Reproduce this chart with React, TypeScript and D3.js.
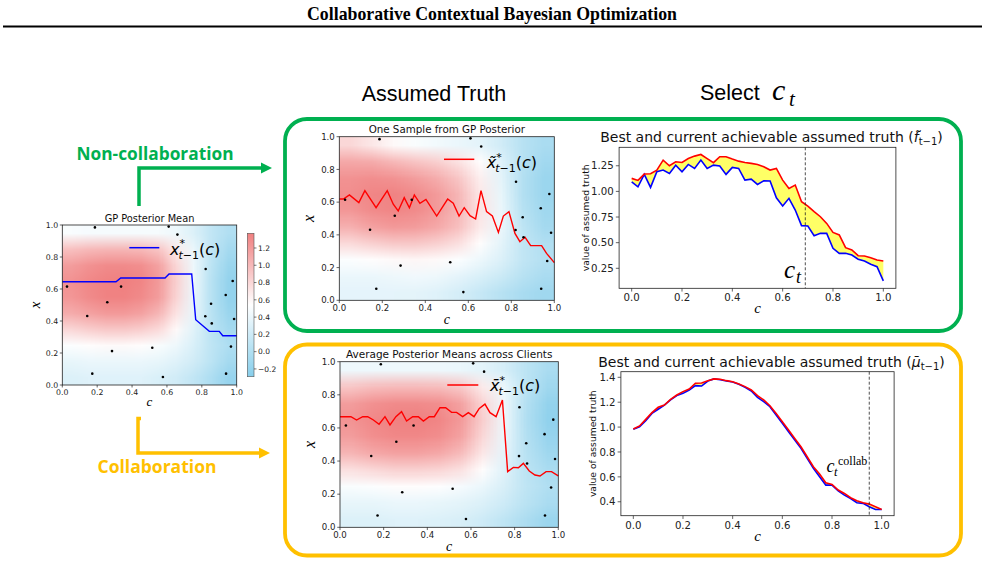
import React, { useMemo } from 'react';
import * as d3 from 'd3';

const W = 985;
const H = 567;

// observed (c, x) points shared by the three posterior panels
const obsC = [0.187, 0.61, 0.66, 0.027, 0.337, 0.258, 0.143, 0.285, 0.516, 0.172, 0.577, 0.822, 0.977, 0.937, 0.853, 0.82, 0.857, 0.985, 0.967, 0.939];
const obsX = [0.985, 0.99, 0.94, 0.615, 0.615, 0.517, 0.431, 0.212, 0.233, 0.071, 0.05, 0.725, 0.65, 0.5625, 0.508, 0.43, 0.385, 0.4125, 0.24, 0.071];

// 10x10 cell values, rows from x=0.95 (top) down to x=0.05, columns c=0.05..0.95
const meanGrid = [
  [0.50, 0.48, 0.47, 0.47, 0.47, 0.47, 0.42, 0.30, 0.12, 0.00],
  [0.95, 1.00, 1.02, 1.02, 1.00, 0.92, 0.68, 0.40, 0.12, -0.08],
  [1.18, 1.25, 1.30, 1.30, 1.27, 1.15, 0.80, 0.42, 0.08, -0.15],
  [1.25, 1.32, 1.36, 1.37, 1.33, 1.20, 0.85, 0.42, 0.05, -0.20],
  [1.22, 1.30, 1.35, 1.35, 1.30, 1.18, 0.82, 0.40, 0.05, -0.20],
  [1.08, 1.15, 1.20, 1.20, 1.15, 1.02, 0.72, 0.38, 0.06, -0.15],
  [0.80, 0.86, 0.90, 0.90, 0.86, 0.78, 0.58, 0.33, 0.08, -0.08],
  [0.52, 0.55, 0.57, 0.57, 0.55, 0.50, 0.42, 0.28, 0.10, -0.02],
  [0.38, 0.40, 0.40, 0.40, 0.40, 0.38, 0.32, 0.22, 0.08, -0.08],
  [0.30, 0.32, 0.32, 0.32, 0.32, 0.28, 0.22, 0.12, -0.02, -0.18],
];
const sampleGrid = [
  [0.80, 0.70, 0.58, 0.50, 0.45, 0.40, 0.35, 0.22, 0.05, -0.05],
  [1.10, 1.08, 1.00, 0.92, 0.85, 0.72, 0.55, 0.32, 0.05, -0.10],
  [1.25, 1.28, 1.25, 1.18, 1.08, 0.92, 0.65, 0.35, 0.02, -0.15],
  [1.28, 1.33, 1.35, 1.30, 1.20, 1.02, 0.70, 0.38, 0.02, -0.15],
  [1.22, 1.30, 1.33, 1.30, 1.20, 1.02, 0.72, 0.40, 0.05, -0.12],
  [1.05, 1.15, 1.20, 1.18, 1.10, 0.95, 0.68, 0.40, 0.10, -0.08],
  [0.78, 0.85, 0.90, 0.90, 0.85, 0.75, 0.55, 0.35, 0.12, 0.00],
  [0.52, 0.55, 0.58, 0.60, 0.58, 0.52, 0.42, 0.30, 0.12, 0.02],
  [0.40, 0.40, 0.42, 0.44, 0.42, 0.36, 0.28, 0.18, 0.05, -0.05],
  [0.36, 0.36, 0.36, 0.35, 0.32, 0.25, 0.15, 0.05, -0.05, -0.12],
];
const avgGrid = [
  [0.42, 0.42, 0.42, 0.42, 0.42, 0.40, 0.35, 0.25, 0.08, -0.05],
  [0.92, 0.98, 1.00, 1.00, 0.98, 0.90, 0.68, 0.40, 0.08, -0.12],
  [1.18, 1.26, 1.30, 1.30, 1.27, 1.15, 0.82, 0.42, 0.02, -0.20],
  [1.24, 1.32, 1.36, 1.37, 1.33, 1.20, 0.86, 0.42, 0.00, -0.22],
  [1.18, 1.27, 1.32, 1.32, 1.28, 1.15, 0.80, 0.40, 0.02, -0.18],
  [1.02, 1.10, 1.15, 1.15, 1.10, 0.98, 0.70, 0.36, 0.05, -0.12],
  [0.75, 0.80, 0.85, 0.85, 0.82, 0.74, 0.55, 0.32, 0.08, -0.05],
  [0.50, 0.52, 0.55, 0.55, 0.53, 0.48, 0.40, 0.27, 0.10, 0.00],
  [0.38, 0.38, 0.40, 0.40, 0.38, 0.35, 0.30, 0.20, 0.06, -0.05],
  [0.30, 0.30, 0.32, 0.32, 0.30, 0.27, 0.20, 0.10, -0.03, -0.15],
];

// argmax curves x*(c)
const meanArgC = [0, 0.308, 0.335, 0.589, 0.612, 0.742, 0.765, 0.843, 0.9, 0.92, 1.0];
const meanArgX = [0.645, 0.645, 0.669, 0.669, 0.694, 0.694, 0.408, 0.335, 0.335, 0.308, 0.308];

const sampleArgC = [0, 0.019, 0.047, 0.091, 0.119, 0.171, 0.223, 0.251, 0.274, 0.302, 0.326, 0.349, 0.375, 0.403, 0.453, 0.504, 0.53, 0.557, 0.581, 0.608, 0.634, 0.659, 0.685, 0.712, 0.74, 0.763, 0.789, 0.817, 0.84, 0.864, 0.89, 0.941, 0.964, 1.0];
const sampleArgX = [0.619, 0.619, 0.644, 0.597, 0.67, 0.566, 0.67, 0.587, 0.546, 0.627, 0.566, 0.644, 0.593, 0.617, 0.515, 0.619, 0.593, 0.515, 0.566, 0.517, 0.497, 0.67, 0.542, 0.515, 0.415, 0.515, 0.542, 0.409, 0.358, 0.385, 0.334, 0.334, 0.287, 0.23];

const avgArgC = [0, 0.05, 0.076, 0.104, 0.127, 0.153, 0.179, 0.206, 0.229, 0.256, 0.282, 0.305, 0.333, 0.359, 0.382, 0.409, 0.432, 0.458, 0.484, 0.511, 0.534, 0.562, 0.588, 0.614, 0.638, 0.664, 0.687, 0.715, 0.744, 0.768, 0.794, 0.817, 0.84, 0.867, 0.893, 0.916, 0.944, 0.969, 1.0];
const avgArgX = [0.668, 0.668, 0.648, 0.668, 0.668, 0.648, 0.622, 0.668, 0.618, 0.668, 0.698, 0.642, 0.668, 0.668, 0.642, 0.668, 0.668, 0.722, 0.722, 0.694, 0.694, 0.668, 0.692, 0.668, 0.718, 0.744, 0.692, 0.668, 0.769, 0.336, 0.362, 0.36, 0.386, 0.34, 0.316, 0.31, 0.336, 0.336, 0.31];

// achievable assumed truth along c
const cGrid = [0, 0.025, 0.05, 0.075, 0.1, 0.125, 0.15, 0.175, 0.2, 0.225, 0.25, 0.275, 0.3, 0.325, 0.35, 0.375, 0.4, 0.425, 0.45, 0.475, 0.5, 0.525, 0.55, 0.575, 0.6, 0.625, 0.65, 0.675, 0.7, 0.725, 0.75, 0.775, 0.8, 0.825, 0.85, 0.875, 0.9, 0.925, 0.95, 0.975, 1.0];
const bestSample = [1.127, 1.107, 1.169, 1.172, 1.208, 1.305, 1.25, 1.289, 1.282, 1.321, 1.344, 1.36, 1.32, 1.28, 1.338, 1.338, 1.315, 1.295, 1.282, 1.273, 1.263, 1.24, 1.208, 1.224, 1.11, 1.029, 1.062, 0.899, 0.857, 0.802, 0.753, 0.688, 0.6, 0.575, 0.451, 0.429, 0.373, 0.37, 0.354, 0.331, 0.321];
const curSample = [1.094, 1.045, 1.166, 1.039, 1.192, 1.208, 1.175, 1.256, 1.192, 1.263, 1.224, 1.305, 1.224, 1.256, 1.247, 1.166, 1.234, 1.224, 1.11, 1.12, 1.068, 1.104, 1.101, 0.938, 0.857, 0.932, 0.818, 0.666, 0.662, 0.568, 0.591, 0.591, 0.445, 0.396, 0.396, 0.38, 0.338, 0.321, 0.289, 0.266, 0.127];
const bestAvg = [0.984, 1.009, 1.062, 1.116, 1.159, 1.177, 1.223, 1.258, 1.285, 1.306, 1.352, 1.354, 1.373, 1.387, 1.384, 1.373, 1.365, 1.346, 1.325, 1.298, 1.253, 1.218, 1.172, 1.11, 1.043, 0.976, 0.909, 0.842, 0.762, 0.681, 0.623, 0.553, 0.539, 0.494, 0.467, 0.432, 0.408, 0.392, 0.381, 0.36, 0.338];
const curAvg = [0.982, 1.003, 1.051, 1.11, 1.143, 1.177, 1.218, 1.253, 1.271, 1.298, 1.333, 1.33, 1.37, 1.387, 1.381, 1.37, 1.362, 1.344, 1.319, 1.29, 1.239, 1.204, 1.164, 1.097, 1.03, 0.963, 0.896, 0.829, 0.749, 0.668, 0.601, 0.534, 0.534, 0.488, 0.453, 0.426, 0.392, 0.387, 0.36, 0.338, 0.338];
const selectC = 0.69;
const selectCCollab = 0.95;

const unitTicks = [0, 0.2, 0.4, 0.6, 0.8, 1.0];
const cbTicks = [-0.2, 0, 0.2, 0.4, 0.6, 0.8, 1.0, 1.2];
const sampleTruthTicks = [0.25, 0.5, 0.75, 1.0, 1.25];
const avgTruthTicks = [0.4, 0.6, 0.8, 1.0, 1.2, 1.4];

const HEAT_LO = -0.29;
const HEAT_MID = 0.54;
const HEAT_HI = 1.37;
const heatColor = d3.scaleLinear<string>()
  .domain([HEAT_LO, HEAT_MID, HEAT_HI])
  .range(['#87ceeb', '#ffffff', '#f08080'])
  .clamp(true);

const GREEN = '#00b050';
const GOLD = '#ffc000';
const SANS = 'DejaVu Sans';
const SERIF = 'Liberation Serif';
const fmt1 = d3.format('.1f');
const fmt2 = d3.format('.2f');
const fmtCb = (v: number) => fmt1(v).replace('-', '\u2212');

type Box = { x0: number; x1: number; y0: number; y1: number };

function gridImage(grid: number[][]): string {
  const canvas = document.createElement('canvas');
  canvas.width = grid[0].length;
  canvas.height = grid.length;
  const ctx = canvas.getContext('2d');
  if (!ctx) return '';
  grid.forEach((row, r) => row.forEach((v, c) => {
    ctx.fillStyle = heatColor(v);
    ctx.fillRect(c, r, 1, 1);
  }));
  return canvas.toDataURL();
}

function Frame({ box, x, y, xTicks, yTicks, xFmt, yFmt, fs }: any) {
  const tl = fs * 0.32;
  const pad = fs * 0.2;
  return (
    <g fontFamily={SANS} fontSize={fs} fill="#222">
      {xTicks.map((t: number) => (
        <g key={'x' + t}>
          <line x1={x(t)} x2={x(t)} y1={box.y1} y2={box.y1 + tl} stroke="#222" strokeWidth={0.7} />
          <text x={x(t)} y={box.y1 + tl + pad + fs * 0.76} textAnchor="middle">{xFmt(t)}</text>
        </g>
      ))}
      {yTicks.map((t: number) => (
        <g key={'y' + t}>
          <line x1={box.x0 - tl} x2={box.x0} y1={y(t)} y2={y(t)} stroke="#222" strokeWidth={0.7} />
          <text x={box.x0 - tl - pad} y={y(t)} dy="0.36em" textAnchor="end">{yFmt(t)}</text>
        </g>
      ))}
      <rect x={box.x0} y={box.y0} width={box.x1 - box.x0} height={box.y1 - box.y0} fill="none" stroke="#222" strokeWidth={0.8} />
    </g>
  );
}

// x*_{t-1}(c) with an optional combining accent on x
function ArgLabel({ x, y, mark }: { x: number; y: number; mark: string }) {
  return (
    <text x={x} y={y} fontFamily={SANS} fontSize={16} fill="#000">
      <tspan fontStyle="italic">{'x' + mark}</tspan>
      <tspan fontSize={11} dy={-7.5}>*</tspan>
      <tspan fontSize={11} dx={-6.5} dy={11.5} fontStyle="italic">t</tspan>
      <tspan fontSize={11}>{'\u22121'}</tspan>
      <tspan dy={-4}>(</tspan>
      <tspan fontStyle="italic">c</tspan>
      <tspan>)</tspan>
    </text>
  );
}

function Heatmap({ box, grid, title, titleFs, fs, labelFs, argC, argX, color, legend }: any) {
  const x = d3.scaleLinear().domain([0, 1]).range([box.x0, box.x1]);
  const y = d3.scaleLinear().domain([0, 1]).range([box.y1, box.y0]);
  const href = useMemo(() => gridImage(grid), [grid]);
  const line = d3.line<number>().x((_, i) => x(argC[i])).y((d) => y(d));
  const cx = (box.x0 + box.x1) / 2;
  const cy = (box.y0 + box.y1) / 2;
  return (
    <g>
      <image href={href} x={box.x0} y={box.y0} width={box.x1 - box.x0} height={box.y1 - box.y0} preserveAspectRatio="none" />
      <path d={line(argX) || ''} fill="none" stroke={color} strokeWidth={1.4} />
      {obsC.map((c, i) => (
        <circle key={i} cx={x(c)} cy={y(obsX[i])} r={1.3} fill="#000" />
      ))}
      <Frame box={box} x={x} y={y} xTicks={unitTicks} yTicks={unitTicks} xFmt={fmt1} yFmt={fmt1} fs={fs} />
      <text x={cx} y={box.y0 - 3.5} textAnchor="middle" fontFamily={SANS} fontSize={titleFs} fill="#111">{title}</text>
      <text x={cx} y={box.y1 + fs * 2.7} textAnchor="middle" fontFamily={SERIF} fontStyle="italic" fontSize={labelFs}>c</text>
      <text transform={`translate(${box.x0 - fs * 2.9},${cy}) rotate(-90)`} textAnchor="middle" fontFamily={SERIF} fontStyle="italic" fontSize={labelFs + 2}>x</text>
      <line x1={legend.lx0} x2={legend.lx1} y1={legend.ly} y2={legend.ly} stroke={color} strokeWidth={1.5} />
      <ArgLabel x={legend.tx} y={legend.ty} mark={legend.mark} />
    </g>
  );
}

function Colorbar({ x0, x1, y0, y1, fs }: { x0: number; x1: number; y0: number; y1: number; fs: number }) {
  const s = d3.scaleLinear().domain([HEAT_LO, HEAT_HI]).range([y1, y0]);
  const stops = d3.range(0, 1.0001, 0.1);
  return (
    <g>
      <defs>
        <linearGradient id="cbGrad" x1="0" y1="1" x2="0" y2="0">
          {stops.map((t) => (
            <stop key={t} offset={t} stopColor={heatColor(HEAT_LO + t * (HEAT_HI - HEAT_LO))} />
          ))}
        </linearGradient>
      </defs>
      <rect x={x0} y={y0} width={x1 - x0} height={y1 - y0} fill="url(#cbGrad)" stroke="#555" strokeWidth={0.6} />
      <g fontFamily={SANS} fontSize={fs} fill="#222">
        {cbTicks.map((t) => (
          <g key={t}>
            <line x1={x1} x2={x1 + 2.5} y1={s(t)} y2={s(t)} stroke="#222" strokeWidth={0.6} />
            <text x={x1 + 4} y={s(t)} dy="0.36em">{fmtCb(t)}</text>
          </g>
        ))}
      </g>
    </g>
  );
}

function TruthChart({ box, yDomain, yTicks, yFmt, best, cur, vline, titleSym, ylab }: any) {
  const x = d3.scaleLinear().domain([-0.05, 1.05]).range([box.x0, box.x1]);
  const y = d3.scaleLinear().domain(yDomain).range([box.y1, box.y0]);
  const area = d3.area<number>().x((_, i) => x(cGrid[i])).y0((_, i) => y(cur[i])).y1((d) => y(d));
  const line = d3.line<number>().x((_, i) => x(cGrid[i])).y((d) => y(d));
  const cx = (box.x0 + box.x1) / 2;
  return (
    <g>
      <path d={area(best) || ''} fill="#ffff66" stroke="none" />
      <path d={line(cur) || ''} fill="none" stroke="#0000ff" strokeWidth={1.6} />
      <path d={line(best) || ''} fill="none" stroke="#ff0000" strokeWidth={1.6} />
      <line x1={x(vline)} x2={x(vline)} y1={box.y0} y2={box.y1} stroke="#222" strokeWidth={0.8} strokeDasharray="3,2" />
      <Frame box={box} x={x} y={y} xTicks={unitTicks} yTicks={yTicks} xFmt={fmt1} yFmt={yFmt} fs={10.2} />
      <text x={cx + 14} y={box.y0 - 5} textAnchor="middle" fontFamily={SANS} fontSize={14} fill="#111">
        Best and current achievable assumed truth (
        <tspan fontStyle="italic">{titleSym}</tspan>
        <tspan fontSize={10} dy={3}>{'t\u22121'}</tspan>
        <tspan dy={-3}>)</tspan>
      </text>
      <text x={cx} y={box.y1 + 25} textAnchor="middle" fontFamily={SERIF} fontStyle="italic" fontSize={15}>c</text>
      <text transform={`translate(${ylab},${(box.y0 + box.y1) / 2}) rotate(-90)`} textAnchor="middle" fontFamily={SANS} fontSize={9.2} fill="#111">value of assumed truth</text>
    </g>
  );
}

export default function App() {
  const leftBox: Box = { x0: 62.3, x1: 236.7, y0: 225, y1: 385 };
  const sampleBox: Box = { x0: 339.3, x1: 554.3, y0: 136.7, y1: 300.3 };
  const avgBox: Box = { x0: 340, x1: 558.3, y0: 361.7, y1: 527.3 };
  const topRight: Box = { x0: 619.1, x1: 895.9, y0: 147.3, y1: 288.3 };
  const botRight: Box = { x0: 620.9, x1: 894.1, y0: 371.7, y1: 515.7 };

  return (
    <svg width={W} height={H} viewBox={`0 0 ${W} ${H}`} style={{ position: 'absolute', left: 0, top: 0, background: '#fff' }}>
      <rect width={W} height={H} fill="#fff" />
      <text x={492} y={19.5} textAnchor="middle" fontFamily={SERIF} fontWeight="bold" fontSize={17.8}>Collaborative Contextual Bayesian Optimization</text>
      <line x1={3} x2={982} y1={26.5} y2={26.5} stroke="#000" strokeWidth={1.8} />

      <text x={434} y={101} textAnchor="middle" fontFamily="Liberation Sans" fontSize={21.5}>Assumed Truth</text>
      <text x={700} y={100} fontFamily="Liberation Sans" fontSize={21.5}>Select</text>
      <text x={772} y={100} fontFamily={SERIF} fontStyle="italic" fontSize={30}>c</text>
      <text x={789} y={106} fontFamily={SERIF} fontStyle="italic" fontSize={21}>t</text>

      {/* framing boxes */}
      <rect x={285} y={119} width={676} height={212} rx={22} fill="none" stroke={GREEN} strokeWidth={3.8} />
      <rect x={285} y={344.5} width={676} height={211} rx={22} fill="none" stroke={GOLD} strokeWidth={3.8} />

      {/* routing arrows */}
      <text x={155} y={160} textAnchor="middle" fontFamily="Open Sans" fontWeight="bold" fontSize={17.3} fill={GREEN}>Non-collaboration</text>
      <path d="M139,206 V168 H263" fill="none" stroke={GREEN} strokeWidth={3.5} />
      <polygon points="272,168 261,162.5 261,173.5" fill={GREEN} />
      <path d="M141,418.5 H138 V453 H262" fill="none" stroke={GOLD} strokeWidth={3.5} />
      <polygon points="270,453 259,447.5 259,458.5" fill={GOLD} />
      <text x={157} y={472.5} textAnchor="middle" fontFamily="Open Sans" fontWeight="bold" fontSize={17.5} fill={GOLD}>Collaboration</text>

      <Heatmap box={leftBox} grid={meanGrid} title="GP Posterior Mean" titleFs={9.8} fs={7.8} labelFs={13}
        argC={meanArgC} argX={meanArgX} color="#0000ff"
        legend={{ lx0: 129.3, lx1: 159.3, ly: 247.7, tx: 170, ty: 254.5, mark: '' }} />
      <Colorbar x0={247.3} x1={254} y0={233.3} y1={376.7} fs={7.5} />

      <Heatmap box={sampleBox} grid={sampleGrid} title="One Sample from GP Posterior" titleFs={10.3} fs={8.6} labelFs={14}
        argC={sampleArgC} argX={sampleArgX} color="#ff0000"
        legend={{ lx0: 444, lx1: 474.3, ly: 159.3, tx: 486.7, ty: 168, mark: '\u0303' }} />
      <Heatmap box={avgBox} grid={avgGrid} title="Average Posterior Means across Clients" titleFs={10.5} fs={8.6} labelFs={14}
        argC={avgArgC} argX={avgArgX} color="#ff0000"
        legend={{ lx0: 447.3, lx1: 478.3, ly: 385, tx: 490, ty: 391, mark: '\u0304' }} />

      <TruthChart box={topRight} yDomain={[0.055, 1.43]} yTicks={sampleTruthTicks} yFmt={fmt2}
        best={bestSample} cur={curSample} vline={selectC} titleSym={'f\u0303'} ylab={588.5} />
      <text x={784} y={278} fontFamily={SERIF} fontStyle="italic" fontSize={25}>c</text>
      <text x={796} y={283} fontFamily={SERIF} fontStyle="italic" fontSize={18}>t</text>

      <TruthChart box={botRight} yDomain={[0.288, 1.445]} yTicks={avgTruthTicks} yFmt={fmt1}
        best={bestAvg} cur={curAvg} vline={selectCCollab} titleSym={'\u03bc\u0304'} ylab={596} />
      <text x={826.5} y={471.5} fontFamily={SERIF} fontStyle="italic" fontSize={18}>c</text>
      <text x={834} y={476} fontFamily={SERIF} fontStyle="italic" fontSize={12.5}>t</text>
      <text x={838} y={465} fontFamily={SERIF} fontSize={12}>collab</text>
    </svg>
  );
}
